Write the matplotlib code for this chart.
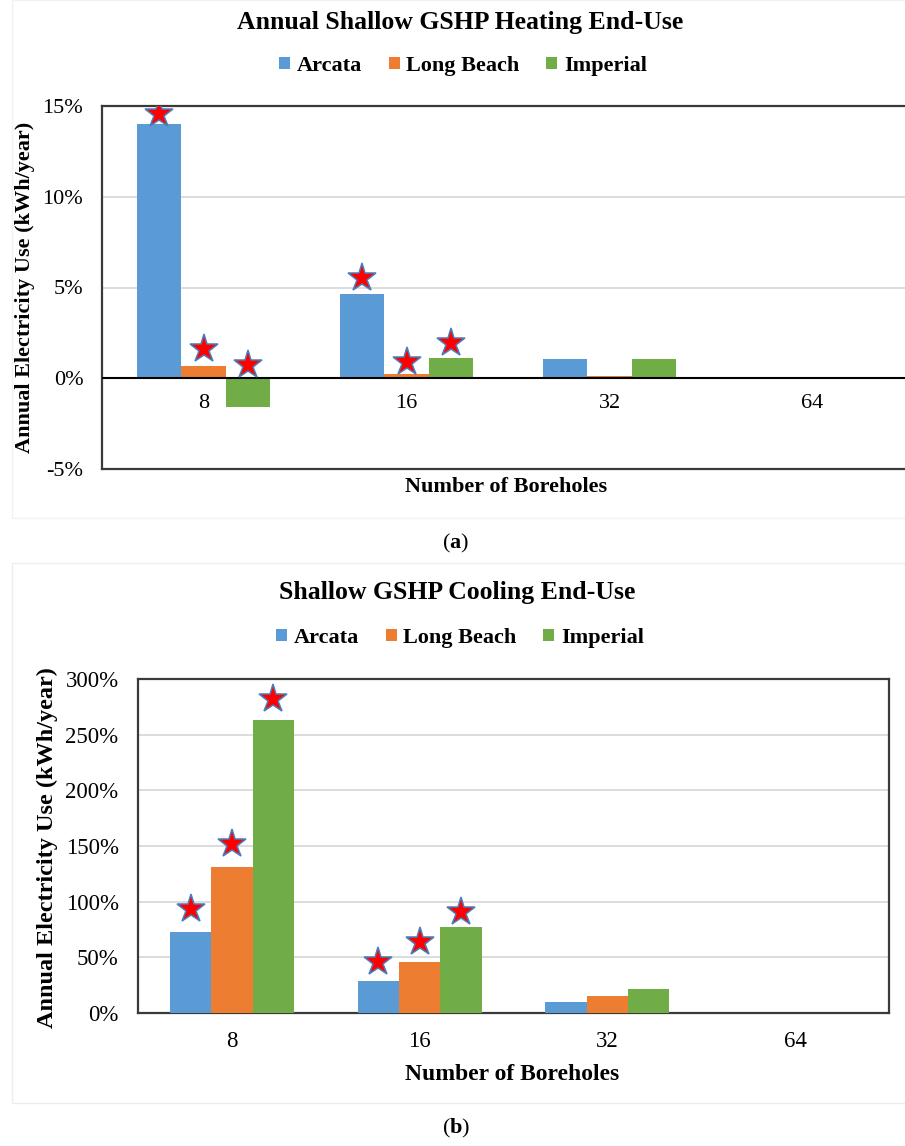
import numpy as np
import matplotlib.pyplot as plt
from matplotlib.patches import Rectangle

# Fuentes tipo Times (como en Excel)
plt.rcParams['font.family'] = 'Liberation Serif'
plt.rcParams['mathtext.fontset'] = 'custom'
plt.rcParams['mathtext.rm'] = 'Liberation Serif'
plt.rcParams['mathtext.bf'] = 'Liberation Serif:bold'

# Datos (porcentaje)
boreholes = ['8', '16', '32', '64']
cities = ['Arcata', 'Long Beach', 'Imperial']
colors = ['#5B9BD5', '#ED7D31', '#70AD47']

heat_arcata = [14.03, 4.63, 1.05, 0.0]
heat_longbeach = [0.69, 0.22, 0.11, 0.0]
heat_imperial = [-1.58, 1.14, 1.05, 0.0]
heat_star_arcata = [14.58, 5.51, np.nan, np.nan]
heat_star_longbeach = [1.63, 0.91, np.nan, np.nan]
heat_star_imperial = [0.73, 1.96, np.nan, np.nan]

cool_arcata = [73.2, 28.8, 10.2, 0.0]
cool_longbeach = [130.8, 45.6, 15.3, 0.0]
cool_imperial = [263.2, 76.8, 21.3, 0.0]
cool_star_arcata = [93.5, 45.9, np.nan, np.nan]
cool_star_longbeach = [151.7, 63.9, np.nan, np.nan]
cool_star_imperial = [281.8, 90.8, np.nan, np.nan]

W, H = 905, 1146
fig = plt.figure(figsize=(W / 100, H / 100), dpi=100)


def fx(px):
    return px / W


def fy(py):
    return 1 - py / H


def panel(rect, series, stars, ylim, yticks, tick_size, pad, label_off):
    ax = fig.add_axes(rect)
    x = np.arange(len(boreholes))
    w = 0.22
    handles = []
    for k, (vals, st) in enumerate(zip(series, stars)):
        xs = x + (k - 1) * w
        b = ax.bar(xs, vals, width=w, color=colors[k], edgecolor='none',
                   zorder=3, label=cities[k])
        handles.append(b)
        ax.plot(xs, st, linestyle='none', marker='*', markersize=21,
                markerfacecolor='#FF0000', markeredgecolor='#4A7EBB',
                markeredgewidth=1.1, zorder=4)
    ax.set_xlim(-0.5, len(boreholes) - 0.5)
    ax.set_ylim(*ylim)
    ax.set_yticks(yticks)
    ax.set_yticklabels([f'{t}%' for t in yticks], fontsize=tick_size)
    ax.tick_params(axis='y', length=0, pad=pad)
    ax.set_xticks([])
    ax.yaxis.grid(True, color='#D9D9D9', linewidth=1.3, zorder=0)
    ax.set_axisbelow(True)
    for s in ax.spines.values():
        s.set_color('#3A3A3A')
        s.set_linewidth(1.6)
    if ylim[0] < 0:
        ax.axhline(0, color='black', linewidth=1.5, zorder=3)
    for xi, lab in zip(x, boreholes):
        ax.annotate(lab, (xi, 0), xytext=(0, label_off), textcoords='offset points',
                    ha='center', va='center', fontsize=tick_size)
    return ax, handles


# Marcos del area de grafico (muy tenues)
fig.patches.append(Rectangle((fx(12), fy(518)), fx(900), fy(0) - fy(518),
                             transform=fig.transFigure, fill=False,
                             edgecolor='#F2F2F2', linewidth=1.0))
fig.patches.append(Rectangle((fx(12), fy(1103)), fx(900), fy(563) - fy(1103),
                             transform=fig.transFigure, fill=False,
                             edgecolor='#EDEDED', linewidth=1.0))

# (a) Calefaccion
ax1, h1 = panel([fx(102), fy(469), fx(812), (469 - 106) / H],
                [heat_arcata, heat_longbeach, heat_imperial],
                [heat_star_arcata, heat_star_longbeach, heat_star_imperial],
                (-5, 15), [-5, 0, 5, 10, 15], 16, 13.5, -18.5)
fig.text(fx(460), fy(22), 'Annual Shallow GSHP Heating End-Use', ha='center', va='center',
         fontsize=18.5, fontweight='bold')
fig.legend(h1, cities, loc='center', bbox_to_anchor=(fx(463), fy(66)), ncol=3,
           frameon=False, prop={'weight': 'bold', 'size': 16},
           handlelength=0.5, handleheight=0.5, handletextpad=0.3, columnspacing=1.2)
fig.text(fx(25), fy(287), 'Annual Electricity Use (kWh/year)', rotation=90,
         ha='center', va='center', fontsize=16, fontweight='bold')
fig.text(fx(506), fy(487), 'Number of Boreholes', ha='center', va='center',
         fontsize=16, fontweight='bold')
fig.text(fx(456), fy(543), r'($\mathbf{a}$)', ha='center', va='center', fontsize=16)

# (b) Refrigeracion
ax2, h2 = panel([fx(138), fy(1013), fx(751), (1013 - 679) / H],
                [cool_arcata, cool_longbeach, cool_imperial],
                [cool_star_arcata, cool_star_longbeach, cool_star_imperial],
                (0, 300), [0, 50, 100, 150, 200, 250, 300], 16.5, 14, -20.5)
fig.text(fx(457), fy(592), 'Shallow GSHP Cooling End-Use', ha='center', va='center',
         fontsize=18.5, fontweight='bold')
fig.legend(h2, cities, loc='center', bbox_to_anchor=(fx(460), fy(638)), ncol=3,
           frameon=False, prop={'weight': 'bold', 'size': 16},
           handlelength=0.5, handleheight=0.5, handletextpad=0.3, columnspacing=1.2)
fig.text(fx(47), fy(848), 'Annual Electricity Use (kWh/year)', rotation=90,
         ha='center', va='center', fontsize=17.5, fontweight='bold')
fig.text(fx(512), fy(1074), 'Number of Boreholes', ha='center', va='center',
         fontsize=17, fontweight='bold')
fig.text(fx(456), fy(1128), r'($\mathbf{b}$)', ha='center', va='center', fontsize=16)

plt.savefig('out.png', dpi=100)
